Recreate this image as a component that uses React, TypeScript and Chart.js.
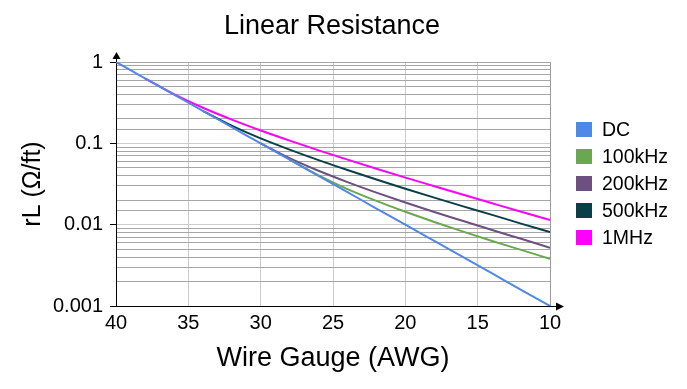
import React, { useEffect, useRef } from "react";
import { Chart, registerables } from "chart.js";

Chart.register(...registerables);

const gauges = [40, 38, 36, 34, 32, 30, 28, 26, 24, 22, 20, 18, 16, 14, 12, 10];
const dc = [1, 0.631, 0.398, 0.251, 0.158, 0.1, 0.0631, 0.0398, 0.0251, 0.0158, 0.01, 0.00631, 0.00398, 0.00251, 0.00158, 0.001];
const khz100 = [null, null, null, null, null, null, 0.0631, 0.0403, 0.0274, 0.0196, 0.0144, 0.0108, 0.0082, 0.0063, 0.0049, 0.0038];
const khz200 = [null, null, null, null, null, 0.1, 0.0658, 0.046, 0.0334, 0.0248, 0.0187, 0.0143, 0.0111, 0.0086, 0.0067, 0.0052];
const khz500 = [null, null, null, 0.251, 0.165, 0.115, 0.0837, 0.0622, 0.047, 0.0359, 0.0277, 0.0215, 0.0168, 0.0132, 0.0103, 0.0081];
const mhz1 = [null, 0.631, 0.4025, 0.274, 0.196, 0.144, 0.108, 0.082, 0.063, 0.0487, 0.0379, 0.0297, 0.0233, 0.0183, 0.0144, 0.0114];

const seriesNames = ["DC", "100kHz", "200kHz", "500kHz", "1MHz"];
const seriesData = [dc, khz100, khz200, khz500, mhz1];
const seriesColors = ["#5088E8", "#6AA84F", "#6D4F80", "#0B3F48", "#FF00FF"];

const xTicks = [40, 35, 30, 25, 20, 15, 10];
const yMin = 0.001;
const yMax = 1;

const FONT = '"Liberation Sans", Arial, sans-serif';

const isDecade = (v: number) => {
  const l = Math.log10(v);
  return Math.abs(l - Math.round(l)) < 1e-6;
};
const decadeLabel = (v: number) => {
  const e = Math.round(Math.log10(v));
  if (e >= 0) return String(Math.pow(10, e));
  return "0." + "0".repeat(-e - 1) + "1";
};

const decorPlugin = {
  id: "decor",
  afterDraw(chart: any) {
    const { ctx, chartArea } = chart;
    const L = chartArea.left + 0.5;
    const T = chartArea.top;
    const R = chartArea.right;
    const B = chartArea.bottom + 0.5;
    ctx.save();
    ctx.strokeStyle = "#000";
    ctx.fillStyle = "#000";
    ctx.lineWidth = 1;
    // y-axis arrow
    ctx.beginPath();
    ctx.moveTo(L, T);
    ctx.lineTo(L, T - 5);
    ctx.stroke();
    ctx.beginPath();
    ctx.moveTo(L - 4, T - 3);
    ctx.lineTo(L + 4, T - 3);
    ctx.lineTo(L, T - 10);
    ctx.closePath();
    ctx.fill();
    // x-axis arrow
    ctx.beginPath();
    ctx.moveTo(R, B);
    ctx.lineTo(R + 7, B);
    ctx.stroke();
    ctx.beginPath();
    ctx.moveTo(R + 6, B - 4);
    ctx.lineTo(R + 6, B + 4);
    ctx.lineTo(R + 14, B);
    ctx.closePath();
    ctx.fill();
    // title
    ctx.font = `27px ${FONT}`;
    ctx.textAlign = "center";
    ctx.textBaseline = "alphabetic";
    ctx.fillText("Linear Resistance", 324, 26);
    // legend
    ctx.font = `19.5px ${FONT}`;
    ctx.textAlign = "left";
    ctx.textBaseline = "middle";
    seriesNames.forEach((name, i) => {
      const cy = 121.5 + 27 * i;
      ctx.fillStyle = seriesColors[i];
      ctx.fillRect(568, cy - 7.5, 16, 15);
      ctx.fillStyle = "#000";
      ctx.fillText(name, 594, cy + 1);
    });
    ctx.restore();
  },
};

export default function App() {
  const ref = useRef<HTMLCanvasElement | null>(null);
  useEffect(() => {
    if (!ref.current) return;
    const datasets = seriesNames.map((name, i) => ({
      label: name,
      data: gauges.map((g, j) => ({ x: g, y: seriesData[i][j] })),
      borderColor: seriesColors[i],
      backgroundColor: seriesColors[i],
      borderWidth: 2,
      pointRadius: 0,
      fill: false,
      cubicInterpolationMode: "monotone" as const,
      spanGaps: false,
    }));
    const chart = new Chart(ref.current, {
      type: "line",
      data: { datasets },
      options: {
        responsive: false,
        animation: false,
        layout: { padding: { left: 0, top: 54, right: 129, bottom: 0 } },
        plugins: {
          legend: { display: false },
          title: { display: false },
          tooltip: { enabled: false },
        },
        scales: {
          x: {
            type: "linear",
            reverse: true,
            min: 10,
            max: 40,
            afterBuildTicks: (scale: any) => {
              scale.ticks = xTicks.map((v) => ({ value: v }));
            },
            afterFit: (scale: any) => {
              scale.height = 75;
            },
            ticks: {
              color: "#000",
              font: { family: FONT, size: 20 },
              padding: 5,
              maxRotation: 0,
              autoSkip: false,
            },
            grid: {
              drawTicks: false,
              color: (c: any) => (c.tick && c.tick.value === 10 ? "#9a9a9a" : "#cccccc"),
              lineWidth: 1,
            },
            border: { color: "#000", width: 1 },
            title: {
              display: true,
              text: "Wire Gauge (AWG)",
              color: "#000",
              font: { family: FONT, size: 27 },
              padding: { top: 0, bottom: 6 },
            },
          },
          y: {
            type: "logarithmic",
            min: yMin,
            max: yMax,
            afterFit: (scale: any) => {
              scale.width = 108;
            },
            ticks: {
              color: "#000",
              font: { family: FONT, size: 20 },
              padding: 7,
              autoSkip: false,
              callback: (v: any) => (isDecade(Number(v)) ? decadeLabel(Number(v)) : ""),
            },
            grid: {
              tickLength: 6,
              color: (c: any) => {
                const v = c.tick ? c.tick.value : 0;
                if (!v) return "#a6a6a6";
                if (isDecade(v) && v < 0.5) return "#cccccc";
                return "#a6a6a6";
              },
              tickColor: (c: any) => (c.tick && isDecade(c.tick.value) ? "#000" : "rgba(0,0,0,0)"),
              lineWidth: 1,
            },
            border: { color: "#000", width: 1 },
            title: {
              display: true,
              text: "rL (Ω/ft)",
              color: "#000",
              font: { family: FONT, size: 25 },
              padding: { top: 10, bottom: 0 },
            },
          },
        },
      },
      plugins: [decorPlugin],
    });
    return () => chart.destroy();
  }, []);
  return (
    <div style={{ width: 671, height: 373 }}>
      <canvas ref={ref} width={671} height={373} style={{ display: "block" }} />
    </div>
  );
}
